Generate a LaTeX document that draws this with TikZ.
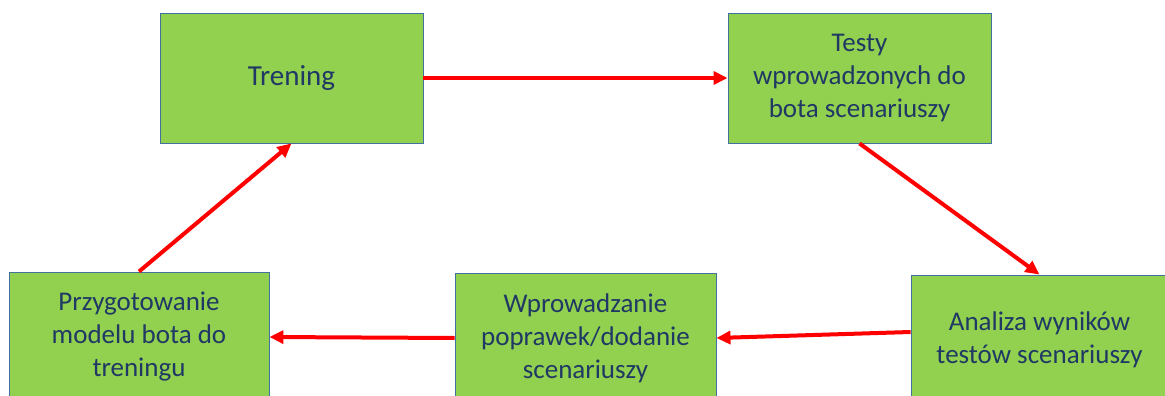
\documentclass[tikz,border=0pt]{standalone}
\usepackage{fontspec}
\setmainfont{Carlito}
\usetikzlibrary{arrows.meta}

\definecolor{boxgreen}{HTML}{92D050}
\definecolor{boxline}{HTML}{41719C}
\definecolor{boxtext}{HTML}{1F3864}
\definecolor{flowred}{HTML}{FF0000}

\tikzset{
  stage/.style={draw=boxline,fill=boxgreen,line width=0.9pt,text=boxtext,
    minimum width=262pt,minimum height=130pt,inner sep=0pt,align=center,
    font=\fontsize{27}{33}\selectfont},
  flow/.style={draw=flowred,line width=4pt,
    -{Triangle[length=14pt,width=13pt]}}
}

\begin{document}
\begin{tikzpicture}[x=1pt,y=-1pt]
  \useasboundingbox (0,0) rectangle (1165,396);
  \clip (0,0) rectangle (1165,396);
  \node[stage,minimum width=263pt,font=\fontsize{29}{35}\selectfont] (trening) at (291.5,78) {Trening};
  \node[stage,minimum width=263pt] (testy) at (859.5,78) {Testy\\wprowadzonych do\\bota scenariuszy};
  \node[stage,minimum width=257pt] (analiza) at (1039.5,340) {Analiza wyników\\testów scenariuszy};
  \node[stage,minimum width=261pt] (poprawki) at (585.5,338) {Wprowadzanie\\poprawek/dodanie\\scenariuszy};
  \node[stage,minimum width=260pt] (model) at (139,337) {Przygotowanie\\modelu bota do\\treningu};
  % cykl
  \draw[flow] (trening.east) -- (testy.west);
  \draw[flow] (testy.south) -- (analiza.north);
  \draw[flow] ([yshift=8pt]analiza.west) -- (poprawki.east);
  \draw[flow] (poprawki.west) -- (model.east);
  \draw[flow] (model.north) -- (trening.south);
\end{tikzpicture}
\end{document}
